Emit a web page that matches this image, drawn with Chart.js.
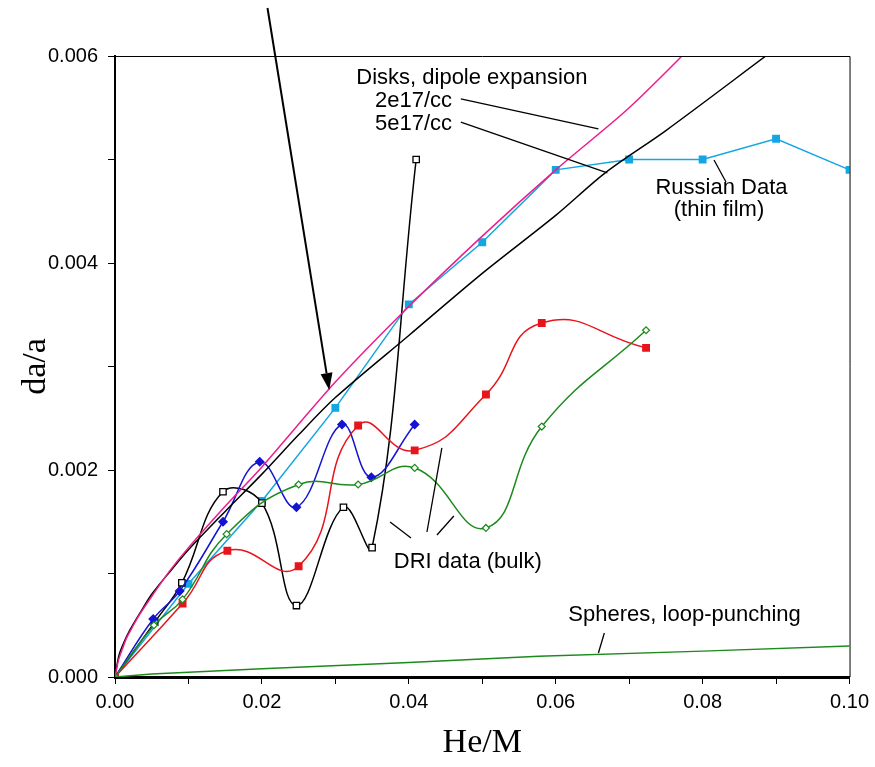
<!DOCTYPE html>
<html>
<head>
<meta charset="utf-8">
<script src="https://cdn.jsdelivr.net/npm/chart.js@4.4.1/dist/chart.umd.min.js"></script>
<style>
  html, body { margin: 0; padding: 0; background: #ffffff; }
  #wrap { width: 875px; height: 767px; }
</style>
</head>
<body>
<div id="wrap"><canvas id="daChart" width="875" height="767"></canvas></div>
<script>
// He/M values and da/a values
const disk2e17X = [0, 0.0005, 0.001, 0.0016, 0.0025, 0.0034, 0.0052, 0.0075, 0.01, 0.015, 0.02, 0.03, 0.04, 0.05, 0.06, 0.07, 0.08];
const disk2e17Y = [0, 0.00017, 0.00027, 0.00038, 0.0005, 0.00061, 0.0008, 0.00103, 0.00125, 0.00165, 0.00203, 0.00285, 0.00358, 0.00426, 0.0049, 0.0055, 0.0062];

const disk5e17X = [0, 0.0005, 0.001, 0.002, 0.0035, 0.005, 0.0075, 0.01, 0.015, 0.02, 0.025, 0.03, 0.04, 0.05, 0.06, 0.0669, 0.075, 0.0886];
const disk5e17Y = [0, 0.0002, 0.0003, 0.00045, 0.00063, 0.0008, 0.00102, 0.00123, 0.0016, 0.00196, 0.00234, 0.0027, 0.0033, 0.0039, 0.00446, 0.00488, 0.00528, 0.006];

const russianX = [0, 0.01, 0.02, 0.03, 0.04, 0.05, 0.06, 0.07, 0.08, 0.09, 0.10];
const russianY = [0, 0.0009, 0.0017, 0.0026, 0.0036, 0.0042, 0.0049, 0.005, 0.005, 0.0052, 0.0049];

const driBlackX = [0, 0.0054, 0.0091, 0.0147, 0.02, 0.0247, 0.0311, 0.035, 0.041];
const driBlackY = [0, 0.00053, 0.00091, 0.00179, 0.00168, 0.00069, 0.00164, 0.00125, 0.005];

const driBlueX = [0, 0.0052, 0.0088, 0.0147, 0.0197, 0.0247, 0.0309, 0.0349, 0.0408];
const driBlueY = [0, 0.00056, 0.00083, 0.0015, 0.00208, 0.00164, 0.00244, 0.00193, 0.00244];

const driRedX = [0, 0.0092, 0.0153, 0.025, 0.0331, 0.0408, 0.0505, 0.0581, 0.0723];
const driRedY = [0, 0.00071, 0.00122, 0.00107, 0.00243, 0.00219, 0.00273, 0.00342, 0.00318];

const driGreenX = [0, 0.0053, 0.0092, 0.0152, 0.025, 0.0331, 0.0408, 0.0505, 0.0581, 0.0723];
const driGreenY = [0, 0.0005, 0.00075, 0.00138, 0.00186, 0.00186, 0.00202, 0.00144, 0.00242, 0.00335];

const spheresX = [0, 0.005, 0.02, 0.04, 0.0577, 0.08, 0.10];
const spheresY = [0, 0.00003, 0.00008, 0.00014, 0.0002, 0.00025, 0.0003];

const xTicks = [0, 0.02, 0.04, 0.06, 0.08, 0.10];
const yTicks = [0, 0.002, 0.004, 0.006];

// annotation texts, in data units
const noteTexts = [
  { text: 'Disks, dipole expansion', x: 0.04858, y: 0.005787 },
  { text: '2e17/cc', x: 0.04064, y: 0.005565 },
  { text: '5e17/cc', x: 0.04064, y: 0.005343 },
  { text: 'Russian Data', x: 0.08257, y: 0.004725 },
  { text: '(thin film)', x: 0.08223, y: 0.004512 },
  { text: 'DRI data (bulk)', x: 0.04803, y: 0.001111 },
  { text: 'Spheres, loop-punching', x: 0.07754, y: 0.000599 }
];
const noteLines = [
  [0.04708, 0.005585, 0.06581, 0.005295],
  [0.04708, 0.005362, 0.06703, 0.00487],
  [0.08155, 0.004995, 0.08318, 0.004783],
  [0.03745, 0.001498, 0.0403, 0.001343],
  [0.0445, 0.002213, 0.04247, 0.001401],
  [0.04613, 0.001556, 0.04383, 0.001372],
  [0.06662, 0.000425, 0.06581, 0.000232]
];
const arrowLine = [0.02076, 0.006464, 0.02917, 0.002773];

function pts(xs, ys) {
  return xs.map((x, i) => ({ x: x, y: ys[i] }));
}

const notesPlugin = {
  id: 'notes',
  afterDraw(chart) {
    const ctx = chart.ctx;
    const sx = chart.scales.x, sy = chart.scales.y;
    const a = chart.chartArea;
    ctx.save();
    // frame top + right
    ctx.strokeStyle = '#000';
    ctx.lineWidth = 1;
    ctx.beginPath();
    ctx.moveTo(a.left, a.top + 0.5);
    ctx.lineTo(a.right + 0.5, a.top + 0.5);
    ctx.lineTo(a.right + 0.5, a.bottom);
    ctx.stroke();

    ctx.lineWidth = 1.3;
    noteLines.forEach(l => {
      ctx.beginPath();
      ctx.moveTo(sx.getPixelForValue(l[0]), sy.getPixelForValue(l[1]));
      ctx.lineTo(sx.getPixelForValue(l[2]), sy.getPixelForValue(l[3]));
      ctx.stroke();
    });

    // arrow
    const x0 = sx.getPixelForValue(arrowLine[0]), y0 = sy.getPixelForValue(arrowLine[1]);
    const x1 = sx.getPixelForValue(arrowLine[2]), y1 = sy.getPixelForValue(arrowLine[3]);
    const ang = Math.atan2(y1 - y0, x1 - x0);
    const hl = 17, hw = 6;
    const bx = x1 - hl * Math.cos(ang), by = y1 - hl * Math.sin(ang);
    ctx.lineWidth = 2;
    ctx.beginPath();
    ctx.moveTo(x0, y0);
    ctx.lineTo(bx, by);
    ctx.stroke();
    ctx.fillStyle = '#000';
    ctx.beginPath();
    ctx.moveTo(x1, y1);
    ctx.lineTo(bx + hw * Math.sin(ang), by - hw * Math.cos(ang));
    ctx.lineTo(bx - hw * Math.sin(ang), by + hw * Math.cos(ang));
    ctx.closePath();
    ctx.fill();

    ctx.font = '22px "Liberation Sans", Arial, sans-serif';
    ctx.textAlign = 'center';
    ctx.textBaseline = 'middle';
    noteTexts.forEach(n => {
      ctx.fillText(n.text, sx.getPixelForValue(n.x), sy.getPixelForValue(n.y));
    });
    ctx.restore();
  }
};

document.addEventListener('DOMContentLoaded', function() {
  const ctx = document.getElementById('daChart').getContext('2d');
  new Chart(ctx, {
    type: 'line',
    data: {
      datasets: [
        {
          label: 'Disks 2e17/cc',
          data: pts(disk2e17X, disk2e17Y),
          borderColor: '#ee1c8c',
          borderWidth: 1.5,
          pointRadius: 0,
          tension: 0.3
        },
        {
          label: 'Disks 5e17/cc',
          data: pts(disk5e17X, disk5e17Y),
          borderColor: '#000000',
          borderWidth: 1.5,
          pointRadius: 0,
          tension: 0.3
        },
        {
          label: 'Spheres',
          data: pts(spheresX, spheresY),
          borderColor: '#1c8a1c',
          borderWidth: 1.5,
          pointRadius: 0,
          tension: 0
        },
        {
          label: 'DRI green',
          data: pts(driGreenX, driGreenY),
          borderColor: '#1c8a1c',
          backgroundColor: '#ffffff',
          borderWidth: 1.5,
          pointStyle: 'rectRot',
          pointRadius: 3.5,
          pointBorderWidth: 1.2,
          tension: 0.45
        },
        {
          label: 'DRI red',
          data: pts(driRedX, driRedY),
          borderColor: '#e8141c',
          backgroundColor: '#e8141c',
          borderWidth: 1.5,
          pointStyle: 'rect',
          pointRadius: 4.5,
          tension: 0.5
        },
        {
          label: 'DRI blue',
          data: pts(driBlueX, driBlueY),
          borderColor: '#1414d2',
          backgroundColor: '#1414d2',
          borderWidth: 1.5,
          pointStyle: 'rectRot',
          pointRadius: 4,
          tension: 0.4
        },
        {
          label: 'DRI black',
          data: pts(driBlackX, driBlackY),
          borderColor: '#000000',
          backgroundColor: '#ffffff',
          borderWidth: 1.5,
          pointStyle: 'rect',
          pointRadius: 4.5,
          pointBorderWidth: 1.3,
          tension: 0.4
        },
        {
          label: 'Russian Data',
          data: pts(russianX, russianY),
          borderColor: '#14a6e2',
          backgroundColor: '#14a6e2',
          borderWidth: 1.5,
          pointStyle: 'rect',
          pointRadius: 4.5,
          tension: 0
        }
      ]
    },
    options: {
      responsive: false,
      animation: false,
      layout: { padding: { top: 56, right: 23, left: 0, bottom: 0 } },
      plugins: {
        legend: { display: false },
        tooltip: { enabled: false }
      },
      scales: {
        x: {
          type: 'linear',
          min: 0,
          max: 0.10,
          afterFit(scale) { scale.height = 90; },
          afterBuildTicks(scale) {
            const t = [];
            for (let i = 0; i <= 10; i++) t.push({ value: i / 100 });
            scale.ticks = t;
          },
          border: { color: '#000', width: 3 },
          grid: { drawOnChartArea: false, tickLength: 7, tickWidth: 1, tickColor: '#000' },
          ticks: {
            color: '#000',
            padding: 6,
            maxRotation: 0,
            autoSkip: false,
            font: { family: '"Liberation Sans", Arial, sans-serif', size: 20 },
            callback: v => xTicks.some(t => Math.abs(t - v) < 1e-9) ? v.toFixed(2) : ''
          },
          title: {
            display: true,
            text: 'He/M',
            color: '#000',
            padding: { bottom: 4 },
            font: { family: '"Liberation Serif", "Times New Roman", serif', size: 34 }
          }
        },
        y: {
          min: 0,
          max: 0.006,
          afterFit(scale) { scale.width = 115; },
          afterBuildTicks(scale) {
            const t = [];
            for (let i = 0; i <= 6; i++) t.push({ value: i / 1000 });
            scale.ticks = t;
          },
          border: { color: '#000', width: 2 },
          grid: { drawOnChartArea: false, tickLength: 7, tickWidth: 1, tickColor: '#000' },
          ticks: {
            color: '#000',
            padding: 10,
            autoSkip: false,
            font: { family: '"Liberation Sans", Arial, sans-serif', size: 20 },
            callback: v => yTicks.some(t => Math.abs(t - v) < 1e-9) ? v.toFixed(3) : ''
          },
          title: {
            display: true,
            text: 'da/a',
            color: '#000',
            padding: { top: 16 },
            font: { family: '"Liberation Serif", "Times New Roman", serif', size: 34 }
          }
        }
      }
    },
    plugins: [notesPlugin]
  });
});
</script>
</body>
</html>
